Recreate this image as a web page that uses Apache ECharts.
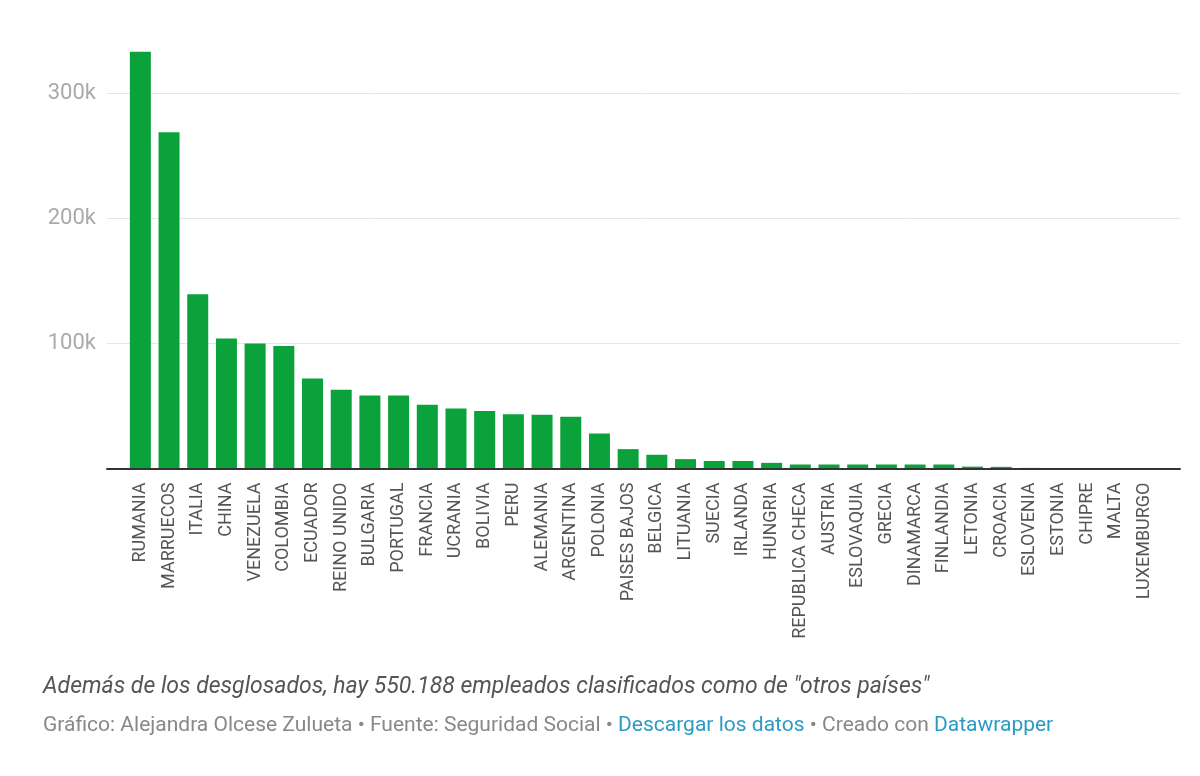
<!DOCTYPE html>
<html>
<head>
<meta charset="utf-8">
<script src="https://cdn.jsdelivr.net/npm/echarts@6/dist/echarts.min.js"></script>
<style>
  html, body { margin: 0; padding: 0; background: #fff; }
  #chart { width: 1200px; height: 776px; }
</style>
</head>
<body>
<div id="chart"></div>
<script>
// datos (empleados extranjeros por pais)
const countries = ['RUMANIA', 'MARRUECOS', 'ITALIA', 'CHINA', 'VENEZUELA', 'COLOMBIA', 'ECUADOR',
  'REINO UNIDO', 'BULGARIA', 'PORTUGAL', 'FRANCIA', 'UCRANIA', 'BOLIVIA', 'PERU', 'ALEMANIA',
  'ARGENTINA', 'POLONIA', 'PAISES BAJOS', 'BELGICA', 'LITUANIA', 'SUECIA', 'IRLANDA', 'HUNGRIA',
  'REPUBLICA CHECA', 'AUSTRIA', 'ESLOVAQUIA', 'GRECIA', 'DINAMARCA', 'FINLANDIA', 'LETONIA',
  'CROACIA', 'ESLOVENIA', 'ESTONIA', 'CHIPRE', 'MALTA', 'LUXEMBURGO'];
const employees = [333500, 269000, 139500, 104000, 100000, 98000, 72000,
  63000, 58500, 58500, 51000, 48000, 46000, 43500, 43000,
  41500, 28000, 15500, 11000, 7500, 6000, 6000, 4500,
  3200, 3200, 3200, 3200, 3200, 3200, 1500,
  1300, 500, 400, 300, 200, 100];
const yTicks = [100000, 200000, 300000];
const yMax = 350000;

const note = 'Además de los desglosados, hay 550.188 empleados clasificados como de "otros países"';
const source = '{g|Gráfico: Alejandra Olcese Zulueta • Fuente: Seguridad Social • }{l|Descargar los datos}{g| • Creado con }{l|Datawrapper}';

const chart = echarts.init(document.getElementById('chart'));

const option = {
  animation: false,
  textStyle: { fontFamily: 'Roboto' },
  title: [
    {
      text: note, left: 43, top: 676, padding: 0,
      textStyle: { fontSize: 23, fontWeight: 'normal', fontStyle: 'italic', color: '#555' }
    },
    {
      text: source, left: 43, top: 715, padding: 0,
      textStyle: {
        fontWeight: 'normal',
        rich: {
          g: { fontSize: 21, fontWeight: 'normal', color: '#888', fontFamily: 'Roboto' },
          l: { fontSize: 21, fontWeight: 'normal', color: '#2a9bc4', fontFamily: 'Roboto' }
        }
      }
    }
  ],
  grid: [
    // fondo: lineas de la cuadricula y eje base a todo lo ancho
    { left: 107, right: 20, top: 31, bottom: 307.5 },
    // barras
    { left: 126, width: 1033, top: 31, bottom: 307.5 }
  ],
  xAxis: [
    {
      gridIndex: 0, type: 'value', min: 0, max: 1, z: 5,
      axisLine: { show: true, lineStyle: { color: '#333', width: 2 } },
      axisTick: { show: false }, axisLabel: { show: false }, splitLine: { show: false }
    },
    {
      gridIndex: 1, type: 'category', data: countries,
      axisLine: { show: false }, axisTick: { show: false },
      axisLabel: { rotate: 90, interval: 0, fontSize: 18, color: '#555', margin: 14 }
    }
  ],
  yAxis: [
    {
      gridIndex: 0, type: 'value', min: 0, max: yMax, interval: 100000,
      axisLine: { show: false }, axisTick: { show: false },
      axisLabel: {
        fontSize: 22, color: '#aaa', margin: 11, showMaxLabel: false,
        formatter: v => yTicks.includes(v) ? (v / 1000) + 'k' : ''
      },
      splitLine: { show: true, showMaxLine: false, showMinLine: false, lineStyle: { color: '#e6e6e6', width: 1 } }
    },
    {
      gridIndex: 1, type: 'value', min: 0, max: yMax, show: false
    }
  ],
  series: [{
    type: 'bar',
    xAxisIndex: 1,
    yAxisIndex: 1,
    data: employees,
    barWidth: 21,
    itemStyle: { color: '#0ca23b' }
  }]
};

chart.setOption(option);
</script>
</body>
</html>
